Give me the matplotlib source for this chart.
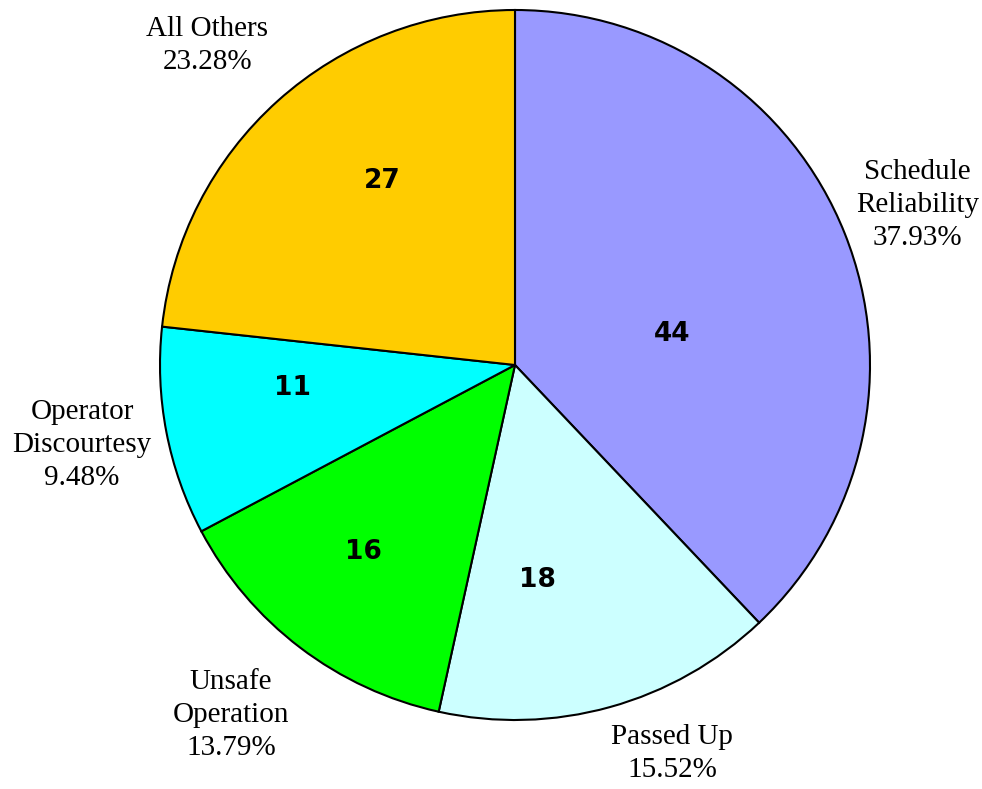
import numpy as np
import matplotlib.pyplot as plt

# --- data ---
categories = ["Schedule\nReliability", "Passed Up", "Unsafe\nOperation",
              "Operator\nDiscourtesy", "All Others"]
counts = [44, 18, 16, 11, 27]
colors = ["#9999FF", "#CCFFFF", "#00FF00", "#00FFFF", "#FFCC00"]

total = sum(counts)
labels = [f"{c}\n{v / total * 100:.2f}%" for c, v in zip(categories, counts)]

# --- figure: 982x789 px, pie centre at (515, 365) px, radius 355 px ---
W, H = 982, 789
cx, cy, r = 515, 365, 355
fig = plt.figure(figsize=(W / 100, H / 100), dpi=100)
ax = fig.add_axes([0, 0, 1, 1])

wedges, texts, autotexts = ax.pie(
    counts, labels=labels, colors=colors, startangle=90, counterclock=False,
    autopct=lambda p: f"{p * total / 100:.0f}", pctdistance=0.6,
    labeldistance=1.23,
    wedgeprops=dict(edgecolor="black", linewidth=1.5),
    textprops=dict(family="Liberation Serif", fontsize=21))

# label placement (radius, angle shift in degrees), like the original
num_pos = [(0.45, -10.7), (0.61, -9.5), (0.68, -1.8), (0.63, -4.9), (0.64, -6.0)]
lab_pos = [(1.22, 0.0), (1.18, 6.5), (1.27, -1.8), (1.24, -0.4), (1.25, 2.0)]

for w, t, lt, (nd, na), (ld, la) in zip(wedges, autotexts, texts, num_pos, lab_pos):
    mid = (w.theta1 + w.theta2) / 2
    a = np.deg2rad(mid + na)
    t.set_position((nd * np.cos(a), nd * np.sin(a)))
    t.set_fontfamily("DejaVu Sans")
    t.set_fontweight("bold")
    t.set_fontsize(19)
    a = np.deg2rad(mid + la)
    lt.set_position((ld * np.cos(a), ld * np.sin(a)))
    lt.set_horizontalalignment("center")
    lt.set_verticalalignment("center")
    lt.set_linespacing(1.35)

ax.set_xlim(-cx / r, (W - cx) / r)
ax.set_ylim(-(H - cy) / r, cy / r)
ax.set_aspect("auto")
ax.axis("off")

fig.savefig("out.png", dpi=100)
